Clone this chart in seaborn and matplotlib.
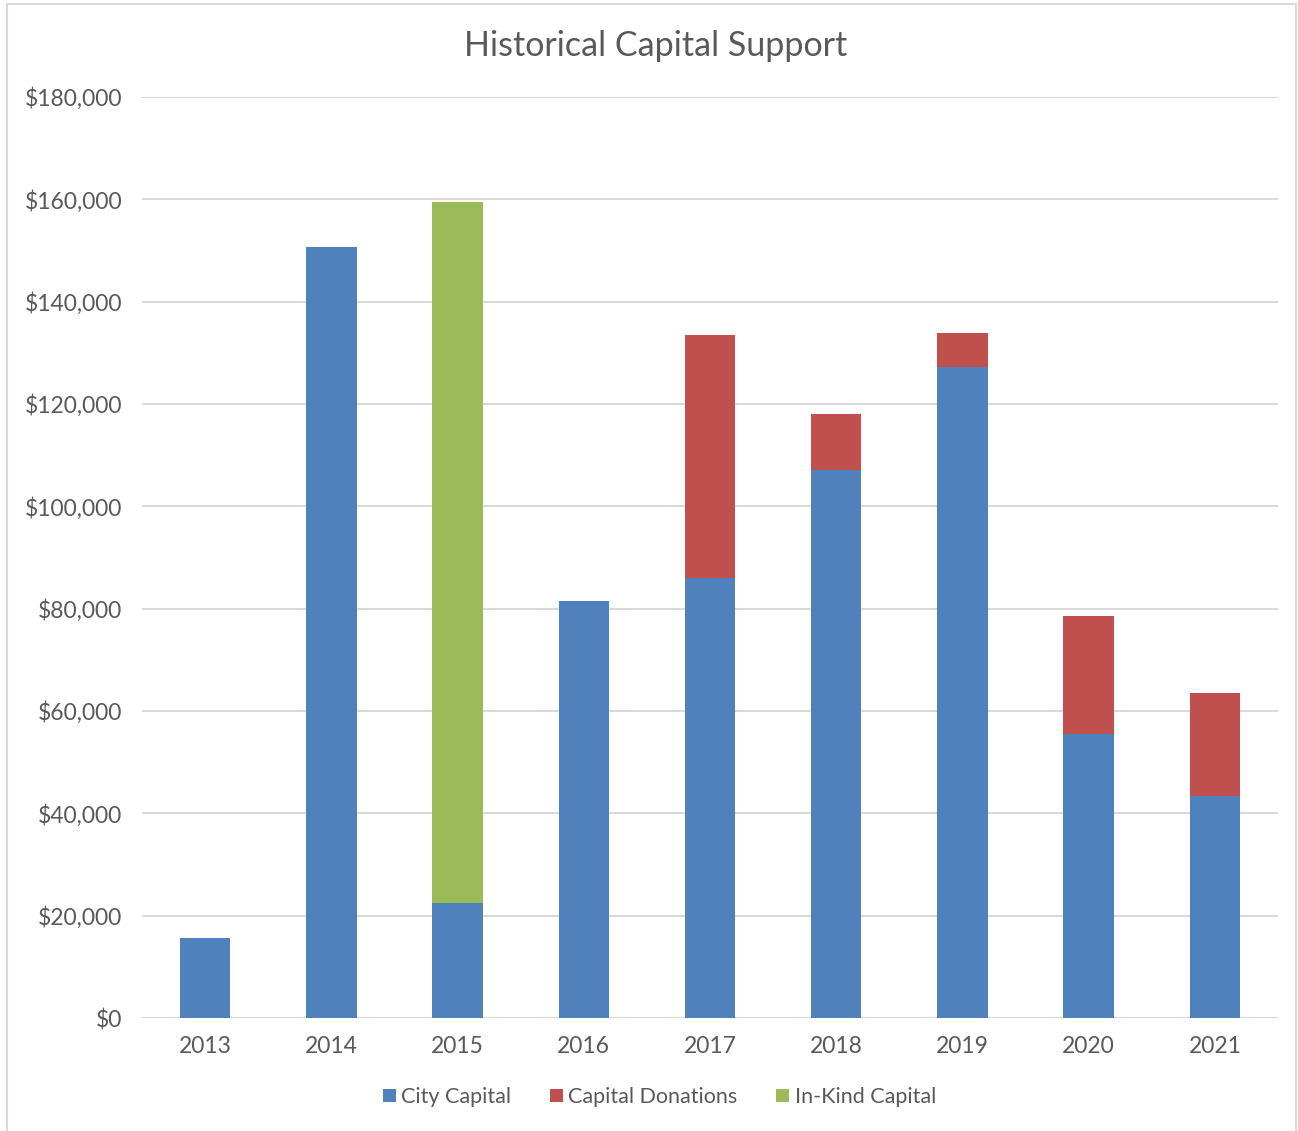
import matplotlib
matplotlib.use("Agg")
import matplotlib.pyplot as plt
from matplotlib.patches import Patch, Rectangle
from matplotlib.ticker import FuncFormatter
import seaborn as sns
import pandas as pd

years = ["2013", "2014", "2015", "2016", "2017", "2018", "2019", "2020", "2021"]
city_capital = [15600, 150700, 22500, 81500, 86000, 107100, 127200, 55500, 43400]
capital_donations = [0, 0, 0, 0, 47500, 10900, 6700, 23100, 20100]
in_kind_capital = [0, 0, 137000, 0, 0, 0, 0, 0, 0]

series_names = ["City Capital", "Capital Donations", "In-Kind Capital"]
colors = ["#4f81bd", "#c0504d", "#9bbb59"]
text_color = "#595959"
grid_color = "#d9d9d9"

sns.set_theme(style="white")
plt.rcParams["font.family"] = ["Lato", "DejaVu Sans"]

df = pd.DataFrame({
    "year": years,
    "city": city_capital,
    "donations": capital_donations,
    "inkind": in_kind_capital,
})
# cumulative heights for stacking (drawn back to front)
df["lvl1"] = df["city"]
df["lvl2"] = df["city"] + df["donations"]
df["lvl3"] = df["lvl2"] + df["inkind"]

fig = plt.figure(figsize=(12.98, 11.31), dpi=100)
ax = fig.add_axes([142 / 1298, 1 - 1018 / 1131, (1278 - 142) / 1298, (1018 - 97) / 1131])

for col, color in zip(["lvl3", "lvl2", "lvl1"], [colors[2], colors[1], colors[0]]):
    sns.barplot(data=df, x="year", y=col, color=color, width=0.40,
                saturation=1, ax=ax, zorder=3, linewidth=0)

ax.set_ylim(0, 180000)
ax.set_yticks(range(0, 180001, 20000))
ax.yaxis.set_major_formatter(FuncFormatter(lambda v, p: f"${v:,.0f}"))
ax.set_xlim(-0.5, len(years) - 0.5)
ax.set_xlabel("")
ax.set_ylabel("")
ax.grid(axis="y", color=grid_color, linewidth=1.5, zorder=0)
ax.set_axisbelow(True)
for s in ax.spines.values():
    s.set_visible(False)
ax.tick_params(axis="both", length=0, colors=text_color, labelsize=16.5)
ax.tick_params(axis="y", pad=14)
ax.tick_params(axis="x", pad=13)

fig.text(0.505, 1 - 46 / 1131, "Historical Capital Support", ha="center", va="center",
         fontsize=24.5, color=text_color)

handles = [Patch(facecolor=c, edgecolor="none") for c in colors]
fig.legend(handles, series_names, loc="center", bbox_to_anchor=(0.508, 1 - 1097 / 1131),
           ncol=3, frameon=False, fontsize=15.5, labelcolor=text_color,
           handlelength=0.6, handleheight=0.6, handletextpad=0.25, columnspacing=1.8)

fig.patches.append(Rectangle((7 / 1298, -0.05), (1296 - 7) / 1298, 1.05 - 4 / 1131,
                             transform=fig.transFigure, fill=False,
                             edgecolor=grid_color, linewidth=1.5))

fig.savefig("out.png", dpi=100)
